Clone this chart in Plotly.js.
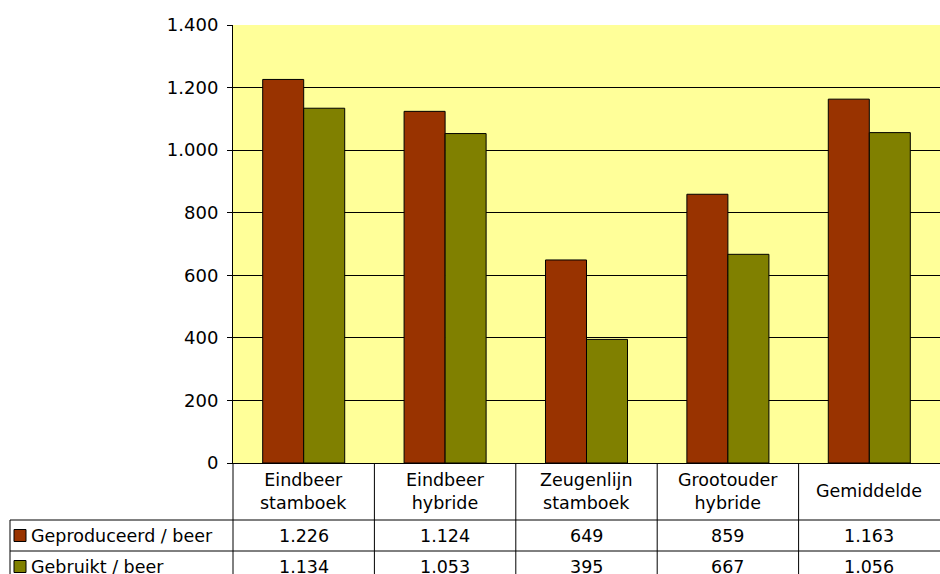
<!DOCTYPE html>
<html>
<head>
<meta charset="utf-8">
<script src="https://cdn.plot.ly/plotly-3.0.1.min.js"></script>
<style>html,body{margin:0;padding:0;background:#fff;}#chart{width:940px;height:574px;}</style>
</head>
<body>
<div id="chart"></div>
<script>
var categories = ["Eindbeer<br>stamboek", "Eindbeer<br>hybride", "Zeugenlijn<br>stamboek", "Grootouder<br>hybride", "Gemiddelde"];
var seriesNames = ["Geproduceerd / beer", "Gebruikt / beer"];
var geproduceerd = [1226, 1124, 649, 859, 1163];
var gebruikt = [1134, 1053, 395, 667, 1056];
var colors = ["#993300", "#808000"];

var FONT = "DejaVu Sans, Verdana, sans-serif";
var FS = 17.5;
var plotH = 438, plotW = 707; // plot area in px
function py(px) { return -px / plotH; } // px below the axis -> paper y
function pxX(px) { return px / plotW; }

var n = categories.length;
var xs = categories.map(function (c, i) { return i; });

var traces = [
  {type: "bar", x: xs, y: geproduceerd, name: seriesNames[0], marker: {color: colors[0], line: {color: "#000", width: 1}}, hoverinfo: "y"},
  {type: "bar", x: xs, y: gebruikt, name: seriesNames[1], marker: {color: colors[1], line: {color: "#000", width: 1}}, hoverinfo: "y"}
];

// table geometry (px below plot bottom)
var headerBottom = 57, row1Bottom = 88, row2Bottom = 119;
var leftEdge = -223;
var shapes = [], annotations = [];
var lineStyle = {color: "#000", width: 1};

[headerBottom, row1Bottom].forEach(function (h) {
  shapes.push({type: "line", xref: "paper", yref: "paper", x0: pxX(leftEdge), x1: 1.02, y0: py(h), y1: py(h), line: lineStyle});
});
for (var i = 1; i < n; i++) {
  shapes.push({type: "line", xref: "paper", yref: "paper", x0: i / n, x1: i / n, y0: 0, y1: py(row2Bottom), line: lineStyle});
}
shapes.push({type: "line", xref: "paper", yref: "paper", x0: 0, x1: 0, y0: 0, y1: py(row2Bottom), line: lineStyle});
shapes.push({type: "line", xref: "paper", yref: "paper", x0: pxX(leftEdge), x1: pxX(leftEdge), y0: py(headerBottom), y1: py(row2Bottom), line: lineStyle});

function thousands(v) {
  var s = String(v);
  return s.length > 3 ? s.slice(0, s.length - 3) + "." + s.slice(s.length - 3) : s;
}

categories.forEach(function (c, i) {
  annotations.push({xref: "paper", yref: "paper", x: (i + 0.5) / n, y: py(headerBottom / 2), text: c, showarrow: false,
    font: {family: FONT, size: FS, color: "#000"}, xanchor: "center", yanchor: "middle"});
});
var rows = [geproduceerd, gebruikt];
var rowCenters = [(headerBottom + row1Bottom) / 2, (row1Bottom + row2Bottom) / 2];
rows.forEach(function (vals, r) {
  vals.forEach(function (v, i) {
    annotations.push({xref: "paper", yref: "paper", x: (i + 0.5) / n, y: py(rowCenters[r]), text: thousands(v), showarrow: false,
      font: {family: FONT, size: FS, color: "#000"}, xanchor: "center", yanchor: "middle"});
  });
  shapes.push({type: "rect", xref: "paper", yref: "paper", x0: pxX(-219), x1: pxX(-207), y0: py(rowCenters[r] - 6), y1: py(rowCenters[r] + 6),
    fillcolor: colors[r], line: {color: "#000", width: 1}});
  annotations.push({xref: "paper", yref: "paper", x: pxX(-204), y: py(rowCenters[r]), text: seriesNames[r], showarrow: false,
    font: {family: FONT, size: FS, color: "#000"}, xanchor: "left", yanchor: "middle"});
});

var layout = {
  width: 940, height: 574,
  margin: {l: 233, r: 0, t: 25, b: 111},
  paper_bgcolor: "#fff",
  plot_bgcolor: "#FFFF99",
  separators: ",.",
  showlegend: false,
  barmode: "group",
  bargap: 0.42,
  bargroupgap: 0,
  font: {family: FONT, color: "#000"},
  xaxis: {range: [-0.5, n - 0.5], showticklabels: false, ticks: "", showgrid: false, zeroline: false,
    showline: true, linecolor: "#000", linewidth: 1, fixedrange: true},
  yaxis: {range: [0, 1400], dtick: 200, tickformat: ",d", showgrid: true, gridcolor: "#000", gridwidth: 1,
    zeroline: false, showline: true, linecolor: "#000", linewidth: 1, ticks: "outside", ticklen: 5, tickcolor: "#000",
    ticklabelstandoff: 5,
    tickfont: {family: FONT, size: 18, color: "#000"}, fixedrange: true},
  shapes: shapes,
  annotations: annotations
};

Plotly.newPlot("chart", traces, layout, {displayModeBar: false, staticPlot: true});
</script>
</body>
</html>
